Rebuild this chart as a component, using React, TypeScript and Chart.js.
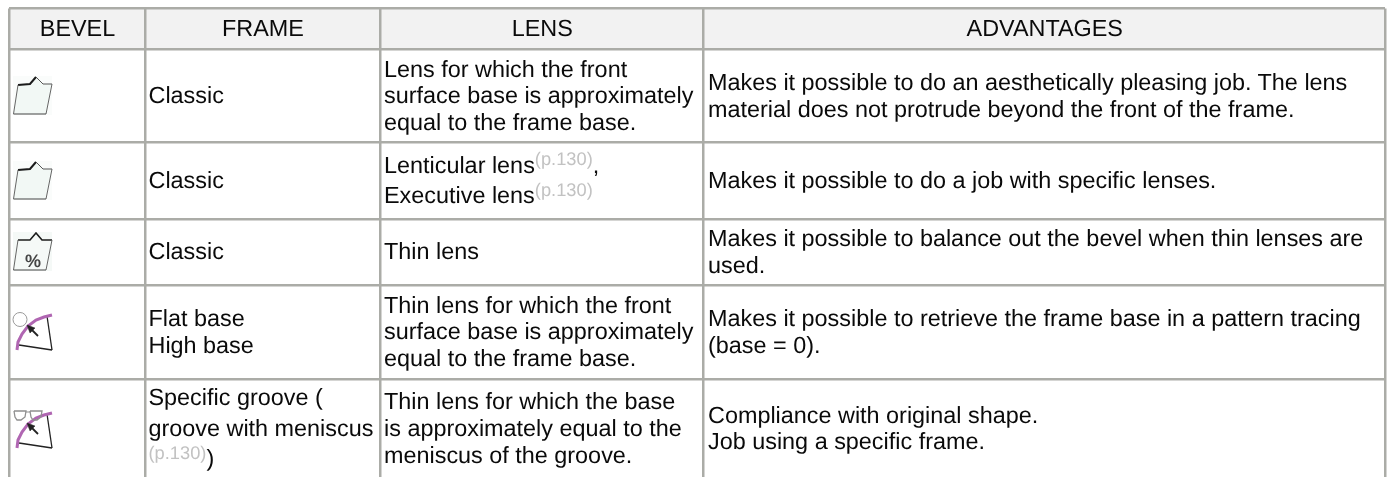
import React, { useEffect, useRef } from "react";
import { Chart, registerables } from "chart.js";

Chart.register(...registerables);

type Run = string | { sup: string };
type Pt = [number, number];

// ---- table content ----
const headers = ["BEVEL", "FRAME", "LENS", "ADVANTAGES"];
const REF: Run = { sup: "(p.130)" };
const frameCol: Run[][][] = [
  [["Classic"]],
  [["Classic"]],
  [["Classic"]],
  [["Flat base"], ["High base"]],
  [["Specific groove ("], ["groove with meniscus"], [REF, ")"]],
];
const lensCol: Run[][][] = [
  [["Lens for which the front"], ["surface base is approximately"], ["equal to the frame base."]],
  [["Lenticular lens", REF, ","], ["Executive lens", REF]],
  [["Thin lens"]],
  [["Thin lens for which the front"], ["surface base is approximately"], ["equal to the frame base."]],
  [["Thin lens for which the base"], ["is approximately equal to the"], ["meniscus of the groove."]],
];
const advantagesCol: Run[][][] = [
  [["Makes it possible to do an aesthetically pleasing job. The lens"], ["material does not protrude beyond the front of the frame."]],
  [["Makes it possible to do a job with specific lenses."]],
  [["Makes it possible to balance out the bevel when thin lenses are"], ["used."]],
  [["Makes it possible to retrieve the frame base in a pattern tracing"], ["(base = 0)."]],
  [["Compliance with original shape."], ["Job using a specific frame."]],
];

// ---- table axes (column and row boundaries) ----
const columnEdges = [9, 145, 380, 703.5, 1385];
const rowEdges = [8.5, 49.5, 142.5, 219, 285.5, 379, 478.3];
const textInsets = [3.5, 4, 4.5];

// ---- header band ----
const headerBand: Pt[] = [[10, 9], [1385, 9], [1385, 49], [10, 49], [10, 9]];

// ---- bevel icon outlines ----
const iconBack: Pt[] = [[13, 76], [52, 76], [52, 115], [13, 115], [13, 76]];
const bevelBody: Pt[] = [[18, 85], [30, 84], [36, 77], [43, 84], [52, 84], [46, 114], [13.5, 114], [18, 85]];
const bevelTopDark: Pt[] = [[18, 85], [30, 84], [36, 77]];
const bevelTopLight: Pt[] = [[36, 77], [43, 84], [52, 84]];
const bevelRight: Pt[] = [[52, 84], [46, 114]];
const bevelBottom: Pt[] = [[46, 114], [13.5, 114]];
const bevelLeft: Pt[] = [[13.5, 114], [18, 85]];
const bevelRowShift = [0, 85];

const thinBack: Pt[] = [[13, 232], [52, 232], [52, 271], [13, 271], [13, 232]];
const thinTop: Pt[] = [[18, 240], [30, 240], [36, 233], [42, 240], [52, 240]];
const thinRight: Pt[] = [[52, 240], [46, 270]];
const thinLeft: Pt[] = [[18, 240], [13.5, 270]];
const thinBottom: Pt[] = [[13.5, 270], [46, 270]];

const arc: Pt[] = [[17, 350], [18, 342], [22, 334], [28, 326], [36, 320], [44, 317], [52, 315]];
const sheetRight: Pt[] = [[47, 316], [52, 350]];
const sheetBottom: Pt[] = [[19, 345], [52, 350]];
const arrowShaft: Pt[] = [[38, 336], [30, 328]];
const arrowHead: Pt[] = [[27, 325], [35, 328], [30, 333], [27, 325]];
const arcRowShift = [0, 98];
const gaugeCircle: Pt[] = [[20, 319.5]];

const glassLeft: Pt[] = [[14, 411], [26, 411], [25, 417], [21, 420], [17, 420], [15, 417], [14, 411]];
const glassRight: Pt[] = [[30, 411], [42, 411], [41, 417], [37, 420], [33, 420], [31, 417], [30, 411]];
const glassBridge: Pt[] = [[26, 412], [30, 412]];

const shift = (pts: Pt[], dy: number) => pts.map(([x, y]) => ({ x, y: y + dy }));

const line = (pts: { x: number; y: number }[], color: string, width: number, fill?: string) => ({
  data: pts,
  showLine: true,
  borderColor: color,
  borderWidth: width,
  backgroundColor: fill ?? "transparent",
  fill: fill ? "shape" : false,
  pointRadius: 0,
  tension: 0,
});

const PINK = "#b066b2";
const datasets: any[] = [line(shift(headerBand, 0), "transparent", 0, "#f2f2f2")];
for (const dy of bevelRowShift) {
  datasets.push(line(shift(iconBack, dy), "transparent", 0, "#fafcfb"));
  datasets.push(line(shift(bevelBody, dy), "transparent", 0, "#f2f8f5"));
  datasets.push(line(shift(bevelTopDark, dy), "#1c1c1c", 2));
  datasets.push(line(shift(bevelTopLight, dy), "#555555", 1));
  datasets.push(line(shift(bevelRight, dy), "#666666", 1));
  datasets.push(line(shift(bevelBottom, dy), "#444444", 1));
  datasets.push(line(shift(bevelLeft, dy), "#666666", 1));
}
datasets.push(line(shift(thinBack, 0), "transparent", 0, "#f5f9f7"));
datasets.push(line(shift(thinTop, 0), "#1c1c1c", 1.6));
datasets.push(line(shift(thinRight, 0), "#666666", 1));
datasets.push(line(shift(thinLeft, 0), "#666666", 1));
datasets.push(line(shift(thinBottom, 0), "#444444", 1));
for (const dy of arcRowShift) {
  datasets.push(line(shift(sheetRight, dy), "#222222", 1.3));
  datasets.push(line(shift(sheetBottom, dy), "#222222", 1.6));
  datasets.push(line(shift(arc, dy), PINK, 3));
  datasets.push(line(shift(arrowShaft, dy), "#222222", 1.8));
  datasets.push(line(shift(arrowHead, dy), "#222222", 0.5, "#222222"));
}
datasets.push({
  data: shift(gaugeCircle, 0),
  pointStyle: "circle",
  pointRadius: 7,
  pointBorderColor: "#9a9a9a",
  pointBorderWidth: 1,
  pointBackgroundColor: "transparent",
  showLine: false,
});
datasets.push(line(shift(glassLeft, 0), "#8f8f8f", 1.3));
datasets.push(line(shift(glassRight, 0), "#8f8f8f", 1.3));
datasets.push(line(shift(glassBridge, 0), "#8f8f8f", 1));
// Chart.js paints the first dataset last, so the backgrounds go to the end.
datasets.reverse();

const FONT = '"Liberation Sans", Arial, sans-serif';
const FONT_SIZE = 23.4;
const SUP_SIZE = 18.3;
const LINE_H = 26.67;
const SUP_LINE_H = 30.6;

const textPlugin = {
  id: "tableText",
  afterDatasetsDraw(chart: any) {
    const { ctx, scales } = chart;
    const px = (v: number) => scales.x.getPixelForValue(v);
    const py = (v: number) => scales.y.getPixelForValue(v);
    ctx.save();
    ctx.textRendering = "geometricPrecision";
    ctx.textBaseline = "alphabetic";
    ctx.fillStyle = "#0a0a0a";
    ctx.font = `${FONT_SIZE}px ${FONT}`;
    ctx.textAlign = "center";
    headers.forEach((h, i) => {
      ctx.fillText(h, px((columnEdges[i] + columnEdges[i + 1]) / 2 + 0.5), py(36));
    });
    ctx.textAlign = "left";
    [frameCol, lensCol, advantagesCol].forEach((col, c) => {
      const left = columnEdges[c + 1] + textInsets[c];
      col.forEach((cell, r) => {
        const center = (rowEdges[r + 1] + rowEdges[r + 2]) / 2;
        const hasSup = cell.some((l) => l.some((run) => typeof run !== "string"));
        const lh = hasSup ? SUP_LINE_H : LINE_H;
        cell.forEach((runs, l) => {
          const base = center + 7.2 + (l - (cell.length - 1) / 2) * lh;
          let x = px(left);
          runs.forEach((run) => {
            if (typeof run === "string") {
              ctx.font = `${FONT_SIZE}px ${FONT}`;
              ctx.fillStyle = "#0a0a0a";
              ctx.fillText(run, x, py(base));
              x += ctx.measureText(run).width;
            } else {
              ctx.font = `${SUP_SIZE}px ${FONT}`;
              ctx.fillStyle = "#c2c2c2";
              ctx.fillText(run.sup, x, py(base - 7.5));
              x += ctx.measureText(run.sup).width;
            }
          });
        });
      });
    });
    ctx.fillStyle = "#444444";
    ctx.font = `bold 18px ${FONT}`;
    ctx.textAlign = "center";
    ctx.fillText("%", px(33), py(267));
    ctx.restore();
  },
};

export default function App() {
  const ref = useRef<HTMLCanvasElement>(null);
  useEffect(() => {
    document.body.style.margin = "0";
    const chart = new Chart(ref.current as HTMLCanvasElement, {
      type: "scatter",
      data: { datasets },
      options: {
        animation: false,
        responsive: false,
        layout: { autoPadding: false, padding: { left: 9, right: 4, top: 8.5, bottom: 0 } },
        plugins: { legend: { display: false }, tooltip: { enabled: false } },
        scales: {
          x: {
            type: "linear",
            min: 9,
            max: 1385,
            afterBuildTicks: (s: any) => {
              s.ticks = columnEdges.map((value) => ({ value }));
            },
            ticks: { display: false, autoSkip: false },
            border: { display: false },
            grid: { color: "#abaca7", lineWidth: 2.5, drawTicks: false, z: 1 },
          },
          y: {
            type: "linear",
            reverse: true,
            min: 8.5,
            max: 477,
            afterBuildTicks: (s: any) => {
              s.ticks = rowEdges.slice(0, -1).map((value) => ({ value }));
            },
            ticks: { display: false, autoSkip: false },
            border: { display: false },
            grid: { color: "#abaca7", lineWidth: 2.5, drawTicks: false, z: 1 },
          },
        },
      } as any,
      plugins: [textPlugin],
    });
    return () => chart.destroy();
  }, []);
  return (
    <div style={{ width: 1389, height: 477, background: "#fff" }}>
      <canvas ref={ref} width={1389} height={477} style={{ display: "block" }} />
    </div>
  );
}
